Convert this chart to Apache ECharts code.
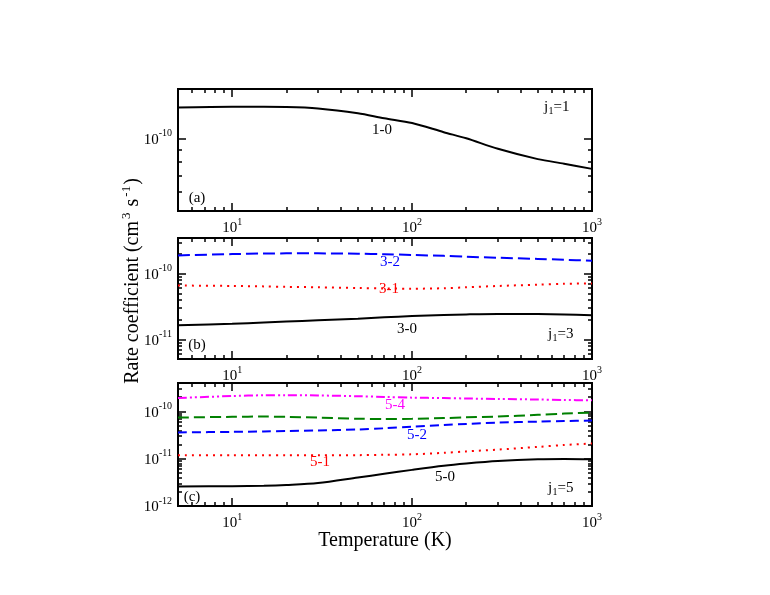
<!DOCTYPE html>
<html>
<head>
<meta charset="utf-8">
<script src="https://cdn.jsdelivr.net/npm/echarts@6/dist/echarts.min.js"></script>
<style>
    html, body { margin: 0; padding: 0; background: #fff; }
    #main { width: 770px; height: 595px; }
</style>
</head>
<body>
<div id="main"></div>
<script>
// temperatures (K) shared by every curve
const temps = [5, 10, 15, 20, 30, 50, 70, 100, 150, 200, 300, 500, 700, 1000];

// panel (a), j1 = 1
const r10 = [1.34e-10, 1.35e-10, 1.35e-10, 1.348e-10, 1.33e-10, 1.27e-10, 1.21e-10, 1.157e-10, 1.06e-10, 1.0e-10, 9.05e-11, 8.2e-11, 7.85e-11, 7.47e-11];

// panel (b), j1 = 3
const r32 = [1.90e-10, 1.99e-10, 2.03e-10, 2.04e-10, 2.04e-10, 2.02e-10, 1.98e-10, 1.93e-10, 1.87e-10, 1.81e-10, 1.75e-10, 1.68e-10, 1.63e-10, 1.58e-10];
const r31 = [6.6e-11, 6.5e-11, 6.4e-11, 6.3e-11, 6.2e-11, 6.05e-11, 5.95e-11, 5.9e-11, 6.0e-11, 6.2e-11, 6.5e-11, 6.8e-11, 7.0e-11, 7.1e-11];
const r30 = [1.63e-11, 1.72e-11, 1.80e-11, 1.86e-11, 1.95e-11, 2.06e-11, 2.16e-11, 2.26e-11, 2.34e-11, 2.39e-11, 2.43e-11, 2.42e-11, 2.38e-11, 2.32e-11];

// panel (c), j1 = 5
const r54 = [1.93e-10, 2.12e-10, 2.20e-10, 2.21e-10, 2.18e-10, 2.10e-10, 2.03e-10, 1.96e-10, 1.92e-10, 1.88e-10, 1.84e-10, 1.79e-10, 1.75e-10, 1.72e-10];
const r53 = [7.44e-11, 7.7e-11, 7.8e-11, 7.7e-11, 7.4e-11, 7.0e-11, 6.95e-11, 7.0e-11, 7.25e-11, 7.5e-11, 7.8e-11, 8.5e-11, 9.0e-11, 9.5e-11];
const r52 = [3.61e-11, 3.7e-11, 3.79e-11, 3.85e-11, 3.97e-11, 4.15e-11, 4.4e-11, 4.77e-11, 5.15e-11, 5.45e-11, 5.81e-11, 6.1e-11, 6.28e-11, 6.41e-11];
const r51 = [1.18e-11, 1.18e-11, 1.18e-11, 1.18e-11, 1.18e-11, 1.19e-11, 1.21e-11, 1.24e-11, 1.33e-11, 1.43e-11, 1.56e-11, 1.78e-11, 1.95e-11, 2.10e-11];
const r50 = [2.60e-12, 2.63e-12, 2.68e-12, 2.78e-12, 3.05e-12, 4.0e-12, 4.8e-12, 5.81e-12, 7.1e-12, 7.9e-12, 8.9e-12, 9.7e-12, 9.85e-12, 9.7e-12];

// tick values
const xMajor = [10, 100, 1000];
const xMinor = [6, 7, 8, 9, 20, 30, 40, 50, 60, 70, 80, 90, 200, 300, 400, 500, 600, 700, 800, 900];
const yMajorA = [1e-10];
const yMinorA = [6e-11, 7e-11, 8e-11, 9e-11];
const yMajorB = [1e-11, 1e-10];
const yMinorB = [6e-12, 7e-12, 8e-12, 9e-12, 2e-11, 3e-11, 4e-11, 5e-11, 6e-11, 7e-11, 8e-11, 9e-11, 2e-10, 3e-10];
const yMajorC = [1e-12, 1e-11, 1e-10];
const yMinorC = [2e-12, 3e-12, 4e-12, 5e-12, 6e-12, 7e-12, 8e-12, 9e-12, 2e-11, 3e-11, 4e-11, 5e-11, 6e-11, 7e-11, 8e-11, 9e-11, 2e-10, 3e-10, 4e-10];

const FONT = 'Liberation Serif';

var chart = echarts.init(document.getElementById('main'));

var panels = [
    { top: 89, height: 122, ymin: 5e-11, ymax: 1.6e-10, major: yMajorA, minor: yMinorA },
    { top: 238, height: 121, ymin: 5e-12, ymax: 3.5e-10, major: yMajorB, minor: yMinorB },
    { top: 383, height: 123, ymin: 1e-12, ymax: 4e-10, major: yMajorC, minor: yMinorC }
];

var powRich = {
    b: { fontFamily: FONT, fontSize: 15, color: '#000', padding: [3, 0, 0, 0] },
    sup: { fontFamily: FONT, fontSize: 10, color: '#000', padding: [0, 0, 10, 0] }
};

function powLabel(v) {
    return '{b|10}{sup|' + Math.round(Math.log10(v)) + '}';
}

var grids = [], xAxes = [], yAxes = [];

panels.forEach(function(p, gi) {
    grids.push({ left: 178, width: 414, top: p.top, height: p.height, outerBoundsMode: 'none', containLabel: false });

    // bottom major / bottom minor / top major / top minor
    [['bottom', xMajor, 8, true], ['bottom', xMinor, 4, false], ['top', xMajor, 8, false], ['top', xMinor, 4, false]].forEach(function(c) {
        xAxes.push({
            type: 'log', gridIndex: gi, position: c[0], min: 5, max: 1000,
            splitLine: { show: false },
            axisLine: { show: true, onZero: false, lineStyle: { color: '#000', width: 2 } },
            axisTick: { show: true, inside: true, length: c[2], customValues: c[1], lineStyle: { color: '#000', width: 1.5 } },
            axisLabel: { show: c[3], customValues: xMajor, margin: 6, formatter: powLabel, rich: powRich }
        });
    });

    [['left', p.major, 8, true], ['left', p.minor, 4, false], ['right', p.major, 8, false], ['right', p.minor, 4, false]].forEach(function(c) {
        yAxes.push({
            type: 'log', gridIndex: gi, position: c[0], min: p.ymin, max: p.ymax,
            splitLine: { show: false },
            axisLine: { show: true, onZero: false, lineStyle: { color: '#000', width: 2 } },
            axisTick: { show: true, inside: true, length: c[2], customValues: c[1], lineStyle: { color: '#000', width: 1.5 } },
            axisLabel: { show: c[3], customValues: p.major, margin: 6, formatter: powLabel, rich: powRich }
        });
    });
});

function line(gi, ys, color, dash, name) {
    return {
        name: name,
        type: 'line',
        xAxisIndex: gi * 4,
        yAxisIndex: gi * 4,
        data: temps.map(function(t, i) { return [t, ys[i]]; }),
        smooth: 0.3,
        showSymbol: false,
        symbol: 'none',
        silent: true,
        animation: false,
        lineStyle: { color: color, width: 2, type: dash }
    };
}

function note(x, y, text, color, size, align) {
    return {
        type: 'text', x: x, y: y, silent: true,
        style: { text: text, fill: color, font: (size || 15) + 'px "' + FONT + '"', align: align || 'center', verticalAlign: 'middle' }
    };
}

// "j" with subscript "1" then "=n", built from three plain texts
function jLabel(cx, cy, n) {
    var x0 = cx - 12;
    return {
        type: 'group', silent: true,
        children: [
            note(x0, cy, 'j', '#000', 15, 'left'),
            note(x0 + 4.5, cy + 4, '1', '#000', 10, 'left'),
            note(x0 + 9.5, cy, '=' + n, '#000', 15, 'left')
        ]
    };
}

option = {
    backgroundColor: '#fff',
    animation: false,
    grid: grids,
    xAxis: xAxes,
    yAxis: yAxes,
    series: [
        line(0, r10, '#000', 'solid', '1-0'),
        line(1, r32, '#0000ff', [12, 5], '3-2'),
        line(1, r31, '#ff0000', [2, 5], '3-1'),
        line(1, r30, '#000', 'solid', '3-0'),
        line(2, r54, '#ff00ff', [9, 3, 2, 3, 2, 3], '5-4'),
        line(2, r53, '#008000', [11, 5], '5-3'),
        line(2, r52, '#0000ff', [9, 5], '5-2'),
        line(2, r51, '#ff0000', [2, 5], '5-1'),
        line(2, r50, '#000', 'solid', '5-0')
    ],
    graphic: [
        note(382, 130, '1-0', '#000'),
        note(197, 198, '(a)', '#000'),
        jLabel(556, 107, 1),
        note(390, 262, '3-2', '#0000ff'),
        note(389, 289, '3-1', '#ff0000'),
        note(407, 329, '3-0', '#000'),
        note(197, 345, '(b)', '#000'),
        jLabel(560, 334, 3),
        note(395, 405, '5-4', '#ff00ff'),
        note(417, 435, '5-2', '#0000ff'),
        note(320, 462, '5-1', '#ff0000'),
        note(445, 477, '5-0', '#000'),
        note(192, 497, '(c)', '#000'),
        jLabel(560, 488, 5),
        note(385, 541, 'Temperature (K)', '#000', 20),
        {
            type: 'text', x: 133, y: 281, rotation: Math.PI / 2, silent: true,
            style: {
                text: '{b|Rate coefficient (cm}{s|3}{b| s}{s|-1}{b|)}',
                align: 'center', verticalAlign: 'middle',
                rich: {
                    b: { fontFamily: FONT, fontSize: 20, fill: '#000' },
                    s: { fontFamily: FONT, fontSize: 13, fill: '#000', padding: [0, 1, 12, 2] }
                }
            }
        }
    ]
};
chart.setOption(option);
</script>
</body>
</html>
